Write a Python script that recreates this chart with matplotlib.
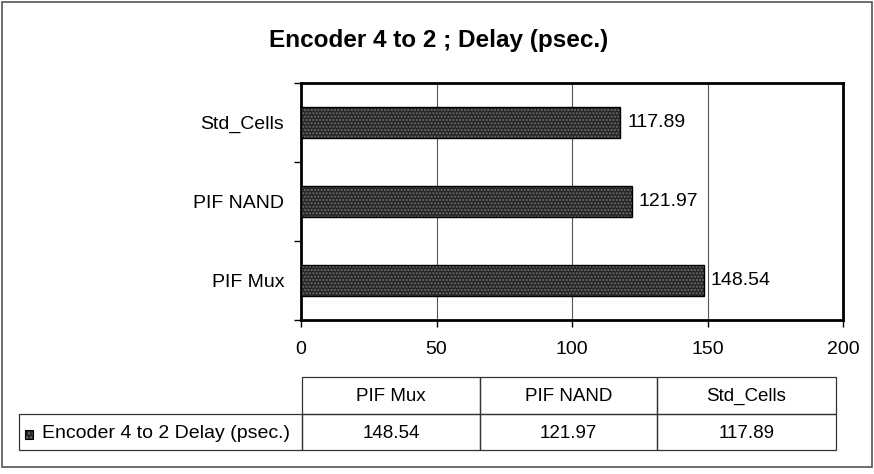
import numpy as np
import matplotlib.pyplot as plt
from matplotlib.patches import Rectangle

# data
categories = ['PIF Mux', 'PIF NAND', 'Std_Cells']
delay_ps = [148.54, 121.97, 117.89]
series_name = 'Encoder 4 to 2 Delay (psec.)'
xticks = [0, 50, 100, 150, 200]

plt.rcParams['font.family'] = ['Liberation Sans', 'DejaVu Sans']
plt.rcParams['hatch.linewidth'] = 1.0

W, H = 874.0, 474.0

def px(x, y):
    # pixel position (from top-left) -> figure fraction
    return x / W, 1 - y / H

def box(fig, x0, y0, x1, y1, **kw):
    fig.add_artist(Rectangle(px(x0, y1), (x1 - x0) / W, (y1 - y0) / H,
                             transform=fig.transFigure, **kw))

def main():
    fig = plt.figure(figsize=(8.74, 4.74), dpi=100)
    ax = fig.add_axes([301 / W, 1 - 320 / H, (843 - 301) / W, (320 - 83) / H])

    # outer chart border
    box(fig, 2, 2, 872, 467, fill=False, edgecolor='#555555', lw=1.2)

    y = np.arange(len(categories))
    ax.barh(y, delay_ps, height=0.4, color='#262626', edgecolor='#6e6e6e',
            hatch='.....', lw=0, zorder=3)
    ax.barh(y, delay_ps, height=0.4, fill=False, edgecolor='black', lw=1.0, zorder=4)
    for yi, v in zip(y, delay_ps):
        ax.text(v + 2.5, yi, f'{v:.2f}', va='center', ha='left', fontsize=14)

    ax.set_xlim(0, 200)
    ax.set_ylim(-0.5, 2.5)
    ax.set_xticks(xticks)
    ax.set_xticklabels([str(t) for t in xticks], fontsize=14)
    ax.tick_params(axis='x', length=5, width=1, pad=10, direction='out')
    ax.set_yticks(y)
    ax.set_yticklabels(categories, fontsize=14)
    ax.set_yticks([-0.5, 0.5, 1.5, 2.5], minor=True)
    ax.tick_params(axis='y', which='major', length=0, pad=12)
    ax.tick_params(axis='y', which='minor', length=5, width=1, direction='out')
    ax.grid(axis='x', color='#555555', lw=0.8, zorder=0)
    for s in ax.spines.values():
        s.set_linewidth(2.0)
        s.set_color('black')

    fig.text(*px(439, 40), 'Encoder 4 to 2 ; Delay (psec.)', ha='center',
             va='center', fontsize=17.5, fontweight='bold')

    # data table under the chart
    col_x = [302, 480, 657, 836]
    top, mid, bot = 377, 414, 450
    edge = dict(fill=False, edgecolor='#333333', lw=0.9)
    box(fig, 19, mid, col_x[0], bot, **edge)
    for i, cat in enumerate(categories):
        x0, x1 = col_x[i], col_x[i + 1]
        box(fig, x0, top, x1, mid, **edge)
        box(fig, x0, mid, x1, bot, **edge)
        fig.text(*px((x0 + x1) / 2, (top + mid) / 2 + 1), cat, ha='center',
                 va='center', fontsize=13.5)
        fig.text(*px((x0 + x1) / 2, (mid + bot) / 2 + 1), f'{delay_ps[i]:.2f}',
                 ha='center', va='center', fontsize=13.5)
    fig.text(*px(42, (mid + bot) / 2 + 1), series_name, ha='left', va='center',
             fontsize=14)
    # legend key
    box(fig, 25, 430, 33, 439, facecolor='#262626', edgecolor='#6e6e6e',
        hatch='....', lw=0)
    box(fig, 25, 430, 33, 439, fill=False, edgecolor='black', lw=0.8)

    fig.savefig('out.png', dpi=100)

if __name__ == '__main__':
    main()
